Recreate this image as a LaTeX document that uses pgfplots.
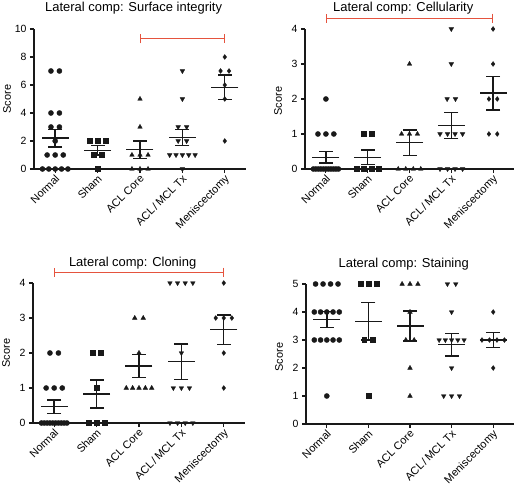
\documentclass[border=0pt]{standalone}
\usepackage{fontspec}
\setmainfont{Liberation Sans}
\usepackage{pgfplots}
\pgfplotsset{compat=1.18}
\usetikzlibrary{arrows.meta}
\definecolor{brk}{RGB}{229,83,62}
\definecolor{ink}{RGB}{25,25,25}
\pgfplotsset{
  panel/.style={
    scale only axis, width=212bp, height=140bp,
    anchor=south west,
    xmin=-0.5, xmax=4.5, ymin=0,
    axis x line=bottom, axis y line=left,
    axis line style={-, line width=1.3bp, ink},
    every tick/.style={line width=1.1bp, ink},
    major tick length=4bp, tick align=outside,
    xtick={0,1,2,3,4},
    xticklabels={Normal,Sham,ACL Core,ACL\,/\,MCL Tx,Meniscectomy},
    x tick label style={rotate=45, anchor=north east, font=\fontsize{11}{12}\selectfont, inner sep=1bp, yshift=1bp},
    y tick label style={font=\fontsize{10.5}{12}\selectfont},
    /pgf/number format/assume math mode=true,
    ylabel={Score},
    every axis y label/.style={at={(rel axis cs:0,0.5)}, xshift=-27bp, rotate=90, anchor=center, font=\fontsize{11}{12}\selectfont},
    every axis title/.style={font=\fontsize{13}{15}\selectfont, at={(0.47,1)}, anchor=base, yshift=17bp},
    clip=false,
  },
  pts/.style={only marks, ink, mark options={fill=ink, draw=ink, line width=0.3bp}},
  pC/.style={pts, mark=*, mark size=2.6bp},
  pS/.style={pts, mark=square*, mark size=2.4bp},
  pT/.style={pts, mark=triangle*, mark size=2.7bp},
  pV/.style={pts, mark=triangle*, mark size=2.7bp, mark options={rotate=180, fill=ink, draw=ink, line width=0.3bp}},
  pD/.style={pts, mark=diamond*, mark size=2.5bp},
  meansem/.style={only marks, ink, mark=-, mark size=13.5bp, mark options={line width=1.4bp, draw=ink},
    error bars/.cd, y dir=both, y explicit, error mark=none,
    error bar style={line width=1.4bp, draw=ink}},
  caps/.style={only marks, ink, mark=-, mark size=7bp, mark options={line width=1.4bp, draw=ink}},
  bracket/.style={brk, line width=1.2bp, {Bar[width=9bp]}-{Bar[width=9bp]}},
}
\begin{document}
\begin{tikzpicture}
\path[use as bounding box] (0,0) rectangle (516bp,485bp);
% Panel 1
\begin{axis}[panel, at={(34bp,316bp)}, ymax=10, ytick={0,2,4,6,8,10}, title={Lateral comp: Surface integrity}]
\addplot[pC] coordinates {(-0.1,7)(0.1,7)(-0.1,4)(0.1,4)(-0.1,3)(0.1,3)(0,2)(-0.19,1)(0,1)(0.19,1)(-0.3,0)(-0.15,0)(0,0)(0.15,0)(0.3,0)};
\addplot[pS] coordinates {(0.81,2)(1,2)(1.19,2)(0.9,1)(1.1,1)(1,0)};
\addplot[pT] coordinates {(2,5)(2,3)(1.81,1)(2,1)(2.19,1)(1.81,0)(2,0)(2.19,0)};
\addplot[pV] coordinates {(3,7)(3,5)(2.9,3)(3.1,3)(2.9,2)(3.1,2)(2.7,1)(2.85,1)(3,1)(3.15,1)(3.3,1)(3,0)};
\addplot[pD] coordinates {(4,8)(3.9,7)(4.1,7)(4,6)(4,5)(4,2)};
\addplot[meansem] coordinates {(0,2.2) +- (0,0.626) (1,1.333) +- (0,0.333) (2,1.375) +- (0,0.625) (3,2.25) +- (0,0.579) (4,5.833) +- (0,0.872)};
\addplot[caps] coordinates {(0,2.826)(0,1.574)(1,1.666)(1,1.0)(2,2.0)(2,0.75)(3,2.829)(3,1.671)(4,6.705)(4,4.961)};
\addplot[bracket] coordinates {(2,9.3) (4,9.3)};
\end{axis}
% Panel 2
\begin{axis}[panel, at={(305bp,316bp)}, width=209bp, ymax=4, ytick={0,1,2,3,4}, title={Lateral comp: Cellularity},
  every axis y label/.append style={xshift=-2bp}]
\addplot[pC] coordinates {(0,2)(-0.19,1)(0,1)(0.19,1)(-0.3,0)(-0.24,0)(-0.18,0)(-0.12,0)(-0.06,0)(0,0)(0.06,0)(0.12,0)(0.18,0)(0.24,0)(0.3,0)};
\addplot[pS] coordinates {(0.9,1)(1.1,1)(0.73,0)(0.91,0)(1.09,0)(1.27,0)};
\addplot[pT] coordinates {(2,3)(1.81,1)(2,1)(2.19,1)(1.73,0)(1.91,0)(2.09,0)(2.27,0)};
\addplot[pV] coordinates {(3,4)(3,3)(2.9,2)(3.1,2)(2.73,1)(2.91,1)(3.09,1)(3.27,1)(2.73,0)(2.91,0)(3.09,0)(3.27,0)};
\addplot[pD] coordinates {(4,4)(4,3)(3.9,2)(4.1,2)(3.9,1)(4.1,1)};
\addplot[meansem] coordinates {(0,0.333) +- (0,0.159) (1,0.333) +- (0,0.211) (2,0.75) +- (0,0.366) (3,1.25) +- (0,0.372) (4,2.167) +- (0,0.477)};
\addplot[caps] coordinates {(0,0.492)(0,0.174)(1,0.544)(1,0.122)(2,1.116)(2,0.384)(3,1.622)(3,0.878)(4,2.644)(4,1.69)};
\addplot[bracket] coordinates {(0,4.31) (4,4.31)};
\end{axis}
% Panel 3
\begin{axis}[panel, at={(33bp,62bp)}, ymax=4, ytick={0,1,2,3,4}, title={Lateral comp: Cloning}]
\addplot[pC] coordinates {(-0.1,2)(0.1,2)(-0.19,1)(0,1)(0.19,1)(-0.3,0)(-0.233,0)(-0.167,0)(-0.1,0)(-0.033,0)(0.033,0)(0.1,0)(0.167,0)(0.233,0)(0.3,0)};
\addplot[pS] coordinates {(0.9,2)(1.1,2)(1,1)(0.81,0)(1,0)(1.19,0)};
\addplot[pT] coordinates {(1.9,3)(2.1,3)(2,2)(1.7,1)(1.85,1)(2,1)(2.15,1)(2.3,1)};
\addplot[pV] coordinates {(2.73,4)(2.91,4)(3.09,4)(3.27,4)(3,2)(2.81,1)(3,1)(3.19,1)(2.73,0)(2.91,0)(3.09,0)(3.27,0)};
\addplot[pD] coordinates {(4,4)(3.81,3)(4,3)(4.19,3)(4,2)(4,1)};
\addplot[meansem] coordinates {(0,0.467) +- (0,0.192) (1,0.833) +- (0,0.401) (2,1.625) +- (0,0.324) (3,1.75) +- (0,0.509) (4,2.667) +- (0,0.422)};
\addplot[caps] coordinates {(0,0.659)(0,0.275)(1,1.234)(1,0.432)(2,1.949)(2,1.301)(3,2.259)(3,1.241)(4,3.089)(4,2.245)};
\addplot[bracket] coordinates {(0,4.31) (4,4.31)};
\end{axis}
% Panel 4
\begin{axis}[panel, at={(306bp,61bp)}, width=208bp, ymax=5, ytick={0,1,2,3,4,5}, title={Lateral comp: Staining},
  every axis y label/.append style={xshift=-3bp}]
\addplot[pC] coordinates {(-0.27,5)(-0.09,5)(0.09,5)(0.27,5)(-0.3,4)(-0.15,4)(0,4)(0.15,4)(0.3,4)(-0.3,3)(-0.15,3)(0,3)(0.15,3)(0.3,3)(0,1)};
\addplot[pS] coordinates {(0.81,5)(1,5)(1.19,5)(0.9,3)(1.1,3)(1,1)};
\addplot[pT] coordinates {(1.81,5)(2,5)(2.19,5)(2,4)(1.9,3)(2.1,3)(2,2)(2,1)};
\addplot[pV] coordinates {(2.9,5)(3.1,5)(3,4)(2.7,3)(2.85,3)(3,3)(3.15,3)(3.3,3)(3,2)(2.81,1)(3,1)(3.19,1)};
\addplot[pD] coordinates {(4,4)(3.73,3)(3.91,3)(4.09,3)(4.27,3)(4,2)};
\addplot[meansem] coordinates {(0,3.733) +- (0,0.284) (1,3.667) +- (0,0.667) (2,3.5) +- (0,0.535) (3,2.833) +- (0,0.405) (4,3.0) +- (0,0.258)};
\addplot[caps] coordinates {(0,4.017)(0,3.449)(1,4.334)(1,3.0)(2,4.035)(2,2.965)(3,3.238)(3,2.428)(4,3.258)(4,2.742)};
\end{axis}
\end{tikzpicture}
\end{document}
